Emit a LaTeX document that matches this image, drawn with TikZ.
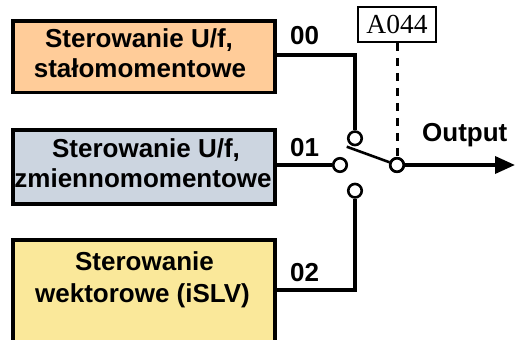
\documentclass[tikz,border=0pt]{standalone}
\usepackage{fontspec}
\setmainfont{Liberation Sans}
\newfontfamily\serifA{Liberation Serif}
\usetikzlibrary{arrows.meta}
\definecolor{boxorange}{HTML}{FFCC99}
\definecolor{boxblue}{HTML}{CCD5E0}
\definecolor{boxyellow}{HTML}{FAE89A}
\tikzset{
  blockbox/.style={draw=black, line width=3.6pt, rectangle, minimum width=262.3pt, inner sep=0pt},
  blocktext/.style={font=\fontsize{26}{30}\selectfont\bfseries, anchor=base, inner sep=0pt},
  codelbl/.style={font=\fontsize{26}{30}\selectfont\bfseries, anchor=base west, inner sep=0pt},
  wire/.style={line width=3.6pt},
  contact/.style={draw=black, line width=2.6pt, circle, minimum size=13.5pt, inner sep=0pt, fill=white},
  parambox/.style={draw=black, line width=1.8pt, rectangle, minimum width=78pt, minimum height=35pt, inner sep=0pt, font=\serifA\fontsize{27.5}{30}\selectfont}
}
\begin{document}
\begin{tikzpicture}[x=1pt,y=-1pt]
\path[use as bounding box, clip] (0,0) rectangle (515,340);
% blocks
\node[blockbox, fill=boxorange, minimum height=71.7pt] (b1) at (143.9,56.65) {};
\node[blockbox, fill=boxblue, minimum height=74pt] (b2) at (143.9,167) {};
\node[blockbox, fill=boxyellow, minimum height=160pt] (b3) at (143.9,320) {};
\node[blocktext] (t1a) at (139,47) {Sterowanie U/f,};
\node[blocktext] (t1b) at (140,77) {stałomomentowe};
\node[blocktext] (t2a) at (146,157) {Sterowanie U/f,};
\node[blocktext] (t2b) at (143,187) {zmiennomomentowe};
\node[blocktext] (t3a) at (144.5,270) {Sterowanie};
\node[blocktext] (t3b) at (142.5,302) {wektorowe (iSLV)};
% contacts
\node[contact] (uc) at (355,138.3) {};
\node[contact] (mc) at (340,165) {};
\node[contact] (lc) at (355,190.7) {};
\node[contact] (oc) at (397,165) {};
\coordinate (c00) at (355,55);
\coordinate (c02) at (355,290);
\coordinate (ls) at (346.7,146.7);
\coordinate (tip) at (515,165);
% wires
\draw[wire] (c00 -| b1.east) -- (c00) -- (uc.north);
\draw[wire] (mc -| b2.east) -- (mc.west);
\draw[wire] (c02 -| b3.east) -- (c02) -- (lc.south);
\draw[line width=2.6pt] (ls) -- (oc);
\draw[wire, -{Triangle[length=20pt,width=17pt]}] (oc.east) -- (tip);
% labels
\node[codelbl] (l00) at (290,45) {00};
\node[codelbl] (l01) at (290,156) {01};
\node[codelbl] (l02) at (290,281) {02};
\node[codelbl] (lout) at (422,141) {Output};
% parameter
\node[parambox, fill=white] (a044) at (397,24.5) {A044};
\draw[line width=3pt, dash pattern=on 8pt off 7pt] (a044.south) -- (oc.north);
\node[contact] (oc2) at (oc) {};
\end{tikzpicture}
\end{document}
